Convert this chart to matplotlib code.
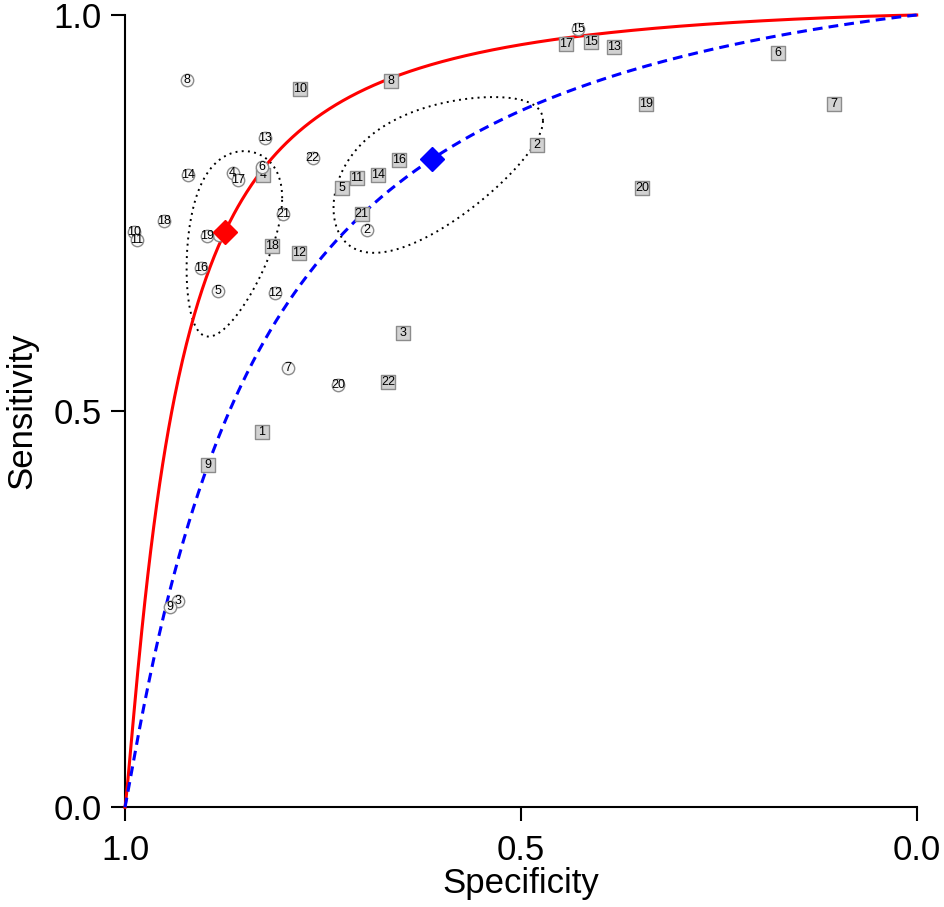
import numpy as np
import matplotlib
matplotlib.use("Agg")
import matplotlib.pyplot as plt

plt.rcParams['font.family'] = ['Liberation Sans', 'DejaVu Sans']

# Study points, group A (circles): labels, specificity, sensitivity
circ_labels = [str(i) for i in range(1, 23)]
circ_spec = [0.881, 0.694, 0.933, 0.864, 0.883, 0.827, 0.794, 0.922, 0.943, 0.989, 0.985,
             0.811, 0.823, 0.920, 0.428, 0.904, 0.857, 0.951, 0.896, 0.731, 0.800, 0.763]
circ_sens = [0.722, 0.729, 0.260, 0.801, 0.652, 0.808, 0.555, 0.918, 0.253, 0.726, 0.716,
             0.649, 0.845, 0.798, 0.982, 0.681, 0.792, 0.740, 0.721, 0.533, 0.749, 0.820]

# Study points, group B (squares)
sq_labels = [str(i) for i in range(1, 23)]
sq_spec = [0.827, 0.480, 0.649, 0.826, 0.726, 0.175, 0.105, 0.664, 0.895, 0.779, 0.707,
           0.780, 0.382, 0.680, 0.411, 0.654, 0.443, 0.814, 0.342, 0.347, 0.701, 0.668]
sq_sens = [0.474, 0.836, 0.599, 0.798, 0.782, 0.952, 0.888, 0.917, 0.432, 0.907, 0.794,
           0.700, 0.960, 0.798, 0.966, 0.817, 0.963, 0.708, 0.888, 0.782, 0.749, 0.537]

# Summary points (spec, sens)
sum_a = (0.8737, 0.7265)
sum_b = (0.6126, 0.8179)
# SROC curve slopes in logit space: logit(sens) = a + b*logit(fpr)
slope_a = 1.173
slope_b = 1.053
# Confidence region covariance in logit(fpr), logit(sens) space
cov_a = [[0.290, 0.121], [0.121, 0.355]]
cov_b = [[0.325, 0.210], [0.210, 0.430]]


def logit(p):
    return np.log(p / (1 - p))


def expit(x):
    return 1 / (1 + np.exp(-x))


def sroc(summary, slope):
    fpr0 = 1 - summary[0]
    a = logit(summary[1]) - slope * logit(fpr0)
    fpr = np.linspace(1e-6, 1 - 1e-6, 800)
    sens = expit(a + slope * logit(fpr))
    return 1 - fpr, sens


def ellipse(summary, cov):
    cx, cy = logit(1 - summary[0]), logit(summary[1])
    L = np.linalg.cholesky(np.array(cov))
    t = np.linspace(0, 2 * np.pi, 300)
    pts = L @ np.vstack([np.cos(t), np.sin(t)])
    fpr = expit(cx + pts[0])
    sens = expit(cy + pts[1])
    return 1 - fpr, sens


fig = plt.figure(figsize=(9.45, 9.07), dpi=100)
ax = fig.add_axes([125 / 945, 1 - 807.3 / 907, 791.7 / 945, 792.3 / 907])
ax.set_xlim(1, 0)
ax.set_ylim(0, 1)

x, y = sroc(sum_a, slope_a)
ax.plot(x, y, color='red', lw=2.2, zorder=3, clip_on=False)
x, y = sroc(sum_b, slope_b)
ax.plot(x, y, color='blue', lw=2.2, ls=(0, (3.2, 2.0)), zorder=3, clip_on=False)

x, y = ellipse(sum_a, cov_a)
ax.plot(x, y, color='black', lw=1.4, ls=(0, (1, 2.2)), zorder=2)
x, y = ellipse(sum_b, cov_b)
ax.plot(x, y, color='black', lw=1.4, ls=(0, (1, 2.2)), zorder=2)

ax.scatter(sq_spec, sq_sens, marker='s', s=95, facecolor='#d2d2d2', edgecolor='#8c8c8c',
           linewidth=1.0, zorder=4)
for lab, sx, sy in zip(sq_labels, sq_spec, sq_sens):
    ax.text(sx, sy, lab, ha='center', va='center', fontsize=9, color='black', zorder=4.5)

ax.scatter(circ_spec, circ_sens, marker='o', s=80, facecolor='#f6f6f6', edgecolor='#8c8c8c',
           linewidth=1.0, zorder=5)
for lab, sx, sy in zip(circ_labels, circ_spec, circ_sens):
    ax.text(sx, sy, lab, ha='center', va='center', fontsize=9, color='black', zorder=5.5)

ax.plot([sum_a[0]], [sum_a[1]], marker='D', ms=12.5, color='red', mec='red', zorder=6, ls='none')
ax.plot([sum_b[0]], [sum_b[1]], marker='D', ms=12.5, color='blue', mec='blue', zorder=6, ls='none')

for s in ['top', 'right']:
    ax.spines[s].set_visible(False)
for s in ['left', 'bottom']:
    ax.spines[s].set_linewidth(1.5)
ax.set_xticks([1.0, 0.5, 0.0])
ax.set_yticks([0.0, 0.5, 1.0])
ax.set_xticklabels(['1.0', '0.5', '0.0'])
ax.set_yticklabels(['0.0', '0.5', '1.0'])
ax.tick_params(axis='both', direction='out', length=10, width=1.5, labelsize=25)
ax.tick_params(axis='x', pad=9)
ax.tick_params(axis='y', pad=7)
ax.set_xlabel('Specificity', fontsize=25, labelpad=0)
ax.set_ylabel('Sensitivity', fontsize=25)
ax.yaxis.set_label_coords(-0.110, 0.5)

fig.savefig('out.png', dpi=100, facecolor='white')
